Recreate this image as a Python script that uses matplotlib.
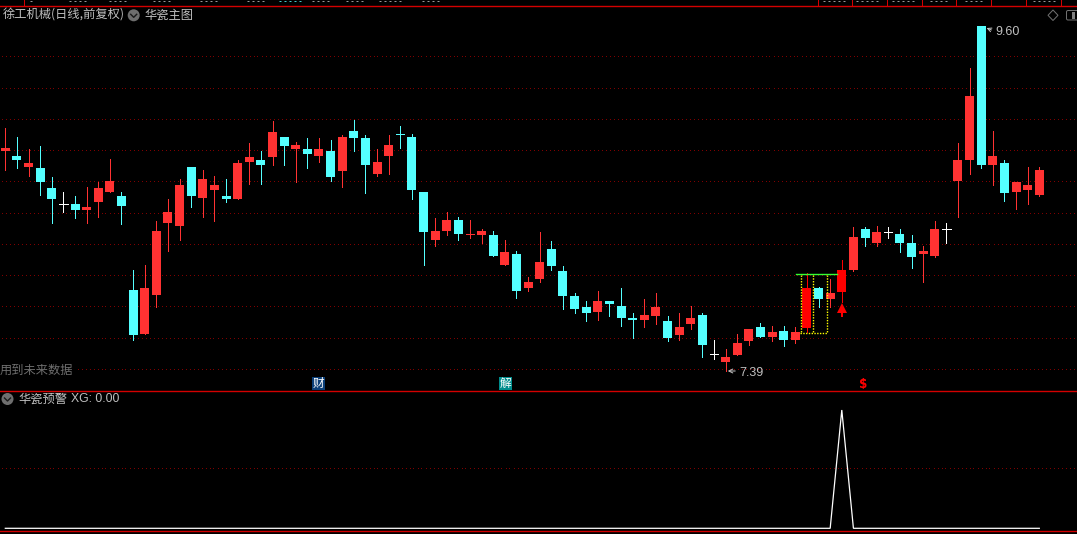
import matplotlib
matplotlib.use("Agg")
import numpy as np
import matplotlib.pyplot as plt
from matplotlib.patches import Circle, Polygon, FancyBboxPatch, Rectangle

plt.rcParams['font.family'] = ['Noto Sans CJK SC', 'DejaVu Sans']

opens = [8.800, 8.768, 8.698, 8.691, 8.563, 8.459, 8.461, 8.422, 8.474, 8.538,
         8.512, 7.910, 7.629, 7.878, 8.339, 8.320, 8.698, 8.499, 8.550, 8.512,
         8.493, 8.730, 8.742, 8.762, 8.890, 8.813, 8.813, 8.768, 8.800, 8.672,
         8.928, 8.883, 8.653, 8.768, 8.907, 8.890, 8.538, 8.230, 8.288, 8.358,
         8.266, 8.262, 8.262, 8.070, 8.141, 7.923, 7.981, 8.173, 8.032, 7.872,
         7.802, 7.770, 7.840, 7.808, 7.731, 7.718, 7.744, 7.712, 7.622, 7.693,
         7.750, 7.501, 7.450, 7.494, 7.584, 7.674, 7.610, 7.648, 7.590, 7.667,
         7.923, 7.853, 7.898, 8.038, 8.301, 8.211, 8.280, 8.269, 8.211, 8.141,
         8.128, 8.299, 8.608, 8.742, 9.600, 8.710, 8.723, 8.538, 8.550, 8.518]
closes = [8.819, 8.742, 8.723, 8.602, 8.493, 8.459, 8.422, 8.442, 8.563, 8.608,
          8.448, 7.622, 7.923, 8.288, 8.410, 8.582, 8.512, 8.621, 8.582, 8.493,
          8.723, 8.762, 8.710, 8.922, 8.832, 8.838, 8.781, 8.813, 8.634, 8.890,
          8.883, 8.710, 8.730, 8.838, 8.905, 8.550, 8.282, 8.288, 8.358, 8.269,
          8.268, 8.288, 8.128, 8.154, 7.904, 7.962, 8.090, 8.064, 7.872, 7.789,
          7.763, 7.840, 7.821, 7.731, 7.718, 7.750, 7.802, 7.603, 7.674, 7.731,
          7.558, 7.501, 7.482, 7.571, 7.661, 7.610, 7.642, 7.590, 7.642, 7.923,
          7.853, 7.891, 8.038, 8.250, 8.243, 8.282, 8.280, 8.211, 8.122, 8.160,
          8.301, 8.299, 8.742, 9.152, 8.710, 8.768, 8.531, 8.602, 8.582, 8.678]
highs = [8.947, 8.890, 8.813, 8.832, 8.634, 8.538, 8.512, 8.570, 8.602, 8.749,
         8.538, 8.038, 8.070, 8.352, 8.493, 8.621, 8.698, 8.678, 8.640, 8.621,
         8.742, 8.851, 8.800, 8.992, 8.890, 8.858, 8.883, 8.883, 8.870, 8.902,
         8.998, 8.902, 8.813, 8.902, 8.960, 8.909, 8.538, 8.371, 8.410, 8.378,
         8.358, 8.301, 8.288, 8.230, 8.160, 7.994, 8.282, 8.224, 8.064, 7.891,
         7.840, 7.904, 7.840, 7.923, 7.763, 7.853, 7.891, 7.744, 7.763, 7.808,
         7.763, 7.590, 7.533, 7.629, 7.661, 7.699, 7.680, 7.680, 7.674, 8.019,
         7.930, 7.981, 8.102, 8.314, 8.314, 8.320, 8.314, 8.301, 8.262, 8.192,
         8.352, 8.339, 8.851, 9.331, 9.600, 8.928, 8.742, 8.602, 8.698, 8.698]
lows = [8.678, 8.691, 8.640, 8.518, 8.339, 8.410, 8.371, 8.339, 8.378, 8.538,
        8.333, 7.590, 7.629, 7.802, 8.160, 8.230, 8.442, 8.378, 8.352, 8.474,
        8.493, 8.589, 8.589, 8.710, 8.710, 8.602, 8.691, 8.730, 8.608, 8.570,
        8.800, 8.531, 8.640, 8.653, 8.819, 8.493, 8.070, 8.192, 8.262, 8.230,
        8.243, 8.211, 8.128, 8.070, 7.859, 7.904, 7.962, 8.038, 7.789, 7.763,
        7.712, 7.718, 7.744, 7.680, 7.603, 7.674, 7.693, 7.584, 7.590, 7.661,
        7.482, 7.469, 7.390, 7.494, 7.558, 7.610, 7.584, 7.552, 7.571, 7.642,
        7.802, 7.802, 7.834, 8.032, 8.192, 8.192, 8.243, 8.154, 8.051, 7.962,
        8.122, 8.211, 8.378, 8.653, 8.691, 8.582, 8.480, 8.429, 8.461, 8.512]
price_grid = [9.4, 9.2, 9.0, 8.8, 8.6, 8.4, 8.2, 8.0, 7.8, 7.6, 7.4]
xg_values = [0] * 72 + [1] + [0] * 17
xg_grid = [0.5]
solid_red_days = [69, 72]
signal_day = 72

W, H = 1077, 534
RED, SOLID_RED, CYAN = '#ff3232', '#ff0000', '#54ffff'
GRID, FRAME, GRAY = '#800000', '#d40000', '#c0c0c0'
PX = 0.72
X0, DX = 5.3, 11.618

fig = plt.figure(figsize=(W / 100, H / 100), dpi=100, facecolor='black')
grid_px = (np.arange(1, W, 4) + 0.5 - X0) / DX


def pane(top, bottom):
    ax = fig.add_axes([0, 1 - bottom / H, 1, (bottom - top) / H], facecolor='black')
    ax.set_xlim(-X0 / DX, (W - X0) / DX)
    ax.set_xticks([])
    ax.set_yticks([])
    for s in ax.spines.values():
        s.set_visible(False)
    return ax


def dotted_grid(axis, levels):
    for g in levels:
        axis.plot(grid_px, [g] * len(grid_px), ls='none', marker=',', color=GRID, zorder=1)


# price pane
ax = pane(5.5, 390.5)
ax.set_ylim(9.7664 - 0.0064 * 390.5, 9.7664 - 0.0064 * 5.5)
dotted_grid(ax, price_grid)

for i, (o, c, h, l) in enumerate(zip(opens, closes, highs, lows)):
    if o == c:
        col = 'white'
    elif c > o:
        col = SOLID_RED if i in solid_red_days else RED
    else:
        col = CYAN
    ax.vlines(i, l, h, color=col, lw=PX, zorder=3, antialiased=False)
    if abs(c - o) < 0.005:
        ax.hlines((o + c) / 2, i - 0.36, i + 0.36, color=col, lw=PX, zorder=3, antialiased=False)
    else:
        ax.bar(i, abs(c - o), bottom=min(o, c), width=0.775, color=col, linewidth=0, zorder=4, antialiased=False)

# buy arrow under the signal candle
ax.vlines(signal_day, 7.74, 7.80, color=SOLID_RED, lw=2 * PX, zorder=5, antialiased=False)
ax.plot([signal_day], [7.795], marker='^', ms=7, color=SOLID_RED, mew=0, zorder=5)

# indicator pane
ax2 = pane(391, 530)
ax2.set_ylim(-1.7 / 118.3, 1 + 19 / 118.3)
dotted_grid(ax2, xg_grid)
ax2.plot(range(len(xg_values)), xg_values, color='white', lw=0.9, zorder=3, solid_joinstyle='miter')

# overlay in pixel coordinates for frame, labels and icons
ov = fig.add_axes([0, 0, 1, 1], facecolor='none')
ov.set_xlim(0, W)
ov.set_ylim(H, 0)
ov.axis('off')

# pattern frame around the signal candles (yellow dotted box, green cap)
for x in (800.5, 812.5, 826.5):
    ov.plot([x, x], [275, 332], color='#ffff00', lw=1.0, ls=(0, (1, 1)), zorder=5)
ov.plot([800, 827], [332.5, 332.5], color='#ffff00', lw=1.0, ls=(0, (1, 1)), zorder=5)
ov.plot([796, 837], [273.5, 273.5], color='#33ff33', lw=1.0, zorder=5)

for y in (5.5, 390.5, 530.5):
    ov.plot([0, W], [y, y], color=FRAME, lw=1.0)
for x in (23.5, 817.5, 851.5, 886.5, 921.5, 955.5, 990.5, 1025.5, 1060.5):
    ov.plot([x, x], [0, 5], color=FRAME, lw=PX, antialiased=False)
# cut-off edge of the quote strip at the very top
for a, b, col in [(30, 35, GRAY), (69, 86, GRAY), (109, 126, GRAY), (153, 171, GRAY), (200, 217, GRAY),
                  (247, 264, GRAY), (279, 302, CYAN), (312, 331, GRAY), (346, 365, GRAY), (379, 403, GRAY),
                  (422, 440, GRAY), (823, 846, GRAY), (856, 880, GRAY), (892, 915, GRAY), (930, 947, GRAY),
                  (965, 985, GRAY), (1033, 1056, GRAY)]:
    ov.plot([a, b], [0.5, 0.5], color=col, lw=PX, ls=(0, (2, 3)), alpha=0.8)

fs = 8.8
ov.text(3, 15.5, '徐工机械(日线,前复权)', color=GRAY, fontsize=fs, va='center', ha='left')
ov.text(144, 15.5, '华瓷主图', color=GRAY, fontsize=fs, va='center', ha='left')
ov.text(18, 399, '华瓷预警', color=GRAY, fontsize=fs, va='center', ha='left')
ov.text(71, 399, 'XG: 0.00', color=GRAY, fontsize=fs, va='center', ha='left', family=['Liberation Sans', 'DejaVu Sans'])
ov.text(0, 370.5, '用到未来数据', color='#6e6e6e', fontsize=fs, va='center', ha='left',
        bbox=dict(facecolor='black', edgecolor='none', pad=1), zorder=6)

for cx, cy in ((133.7, 15.3), (7.5, 399)):
    ov.add_patch(Circle((cx, cy), 6, facecolor='#6e6e6e', edgecolor='none', zorder=6))
    ov.plot([cx - 3, cx, cx + 3], [cy - 1, cy + 2, cy - 1], color='#1a1a1a', lw=1.0, zorder=7)

ov.add_patch(Polygon([(1053, 10), (1058, 15.3), (1053, 20.5), (1048, 15.3)], closed=True, fill=False,
                     edgecolor='#707070', lw=PX))
ov.add_patch(FancyBboxPatch((1066.5, 10.5), 12, 9.5, boxstyle='round,pad=0,rounding_size=1.5', fill=False,
                            edgecolor='#707070', lw=PX, clip_on=False))
ov.add_patch(Rectangle((1072, 12), 3, 7, facecolor='#808080', edgecolor='none'))

# high and low markers
ov.text(995, 32, '9.60', color=GRAY, fontsize=9, va='center', ha='left', family=['Liberation Sans', 'DejaVu Sans'])
ov.text(739, 372.5, '7.39', color=GRAY, fontsize=9, va='center', ha='left', family=['Liberation Sans', 'DejaVu Sans'])
ov.annotate('', xy=(984, 27), xytext=(994, 31), arrowprops=dict(arrowstyle='->', color=GRAY, lw=PX, mutation_scale=7))
ov.annotate('', xy=(725, 371), xytext=(738, 371), arrowprops=dict(arrowstyle='->', color=GRAY, lw=PX, mutation_scale=7))

# event badges above the indicator pane
ov.add_patch(Rectangle((312, 376.5), 13, 13.5, facecolor='#0b3f78', edgecolor='none'))
ov.text(318.5, 383.3, '财', color='white', fontsize=8.4, va='center', ha='center')
ov.add_patch(Rectangle((498.6, 376.5), 13, 13.5, facecolor='#008c8c', edgecolor='none'))
ov.text(505.1, 383.3, '解', color='white', fontsize=8.4, va='center', ha='center')
ov.text(863.5, 384.5, '$', color='#ff0000', fontsize=8.6, fontweight='bold', va='center', ha='center',
        family=['DejaVu Sans'])
ov.add_patch(Polygon([(861, 380.5), (863.5, 378), (866, 380.5)], closed=True, facecolor='#ff0000', edgecolor='none'))

fig.savefig('out.png', dpi=100, facecolor='black')
